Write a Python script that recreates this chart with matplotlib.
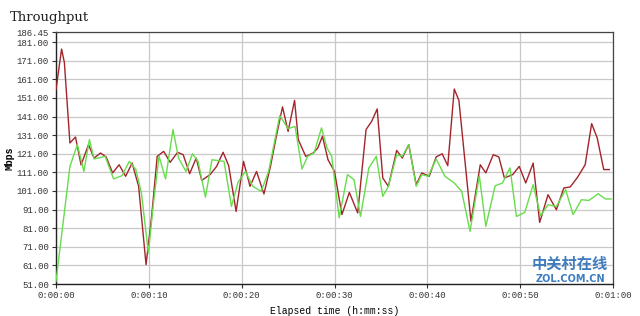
import numpy as np
import matplotlib.pyplot as plt

# Throughput samples: (elapsed seconds, Mbps)
red_t = [0.0, 0.6, 0.9, 1.5, 2.1, 2.7, 3.5, 4.1, 4.8, 5.4, 6.1, 6.8, 7.5, 8.2,
         8.9, 9.7, 10.3, 10.9, 11.6, 12.3, 13.1, 13.7, 14.4, 15.1, 15.7, 16.6,
         17.3, 18.0, 18.6, 19.4, 20.2, 20.9, 21.6, 22.4, 23.1, 23.7, 24.4, 25.0,
         25.7, 26.1, 26.9, 27.7, 28.2, 28.7, 29.3, 30.0, 30.8, 31.6, 32.5, 33.4,
         34.0, 34.6, 35.2, 35.8, 36.7, 37.3, 38.0, 38.8, 39.4, 40.2, 40.95, 41.6,
         42.2, 42.9, 43.4, 44.7, 45.7, 46.3, 47.1, 47.7, 48.3, 49.2, 49.9, 50.6,
         51.4, 52.1, 53.0, 53.9, 54.7, 55.4, 56.2, 57.0, 57.7, 58.3, 59.0, 59.6]
red_v = [155.5, 177.3, 170.1, 126.8, 130.0, 115.0, 125.9, 118.7, 121.4, 119.3,
         110.7, 115.1, 108.9, 116.0, 103.5, 61.4, 87.3, 119.6, 122.3, 116.4,
         121.8, 120.5, 110.3, 118.7, 106.7, 109.8, 114.2, 121.8, 114.6, 90.0,
         116.9, 103.5, 111.5, 99.4, 114.2, 129.5, 146.2, 133.0, 149.7, 128.6,
         119.6, 121.4, 124.1, 130.4, 117.8, 111.5, 88.3, 100.2, 89.2, 134.0,
         138.4, 145.1, 108.0, 103.5, 122.8, 118.7, 125.9, 104.4, 110.7, 108.9,
         119.3, 121.0, 114.6, 155.8, 149.7, 84.7, 115.1, 110.7, 120.5, 119.3,
         108.0, 109.8, 114.2, 105.3, 116.0, 84.1, 99.0, 90.9, 102.6, 103.2,
         108.5, 115.1, 137.2, 129.5, 112.5, 112.5]

green_t = [0.0, 1.5, 2.3, 3.0, 3.6, 4.1, 5.3, 6.2, 7.1, 7.9, 8.6, 9.2, 9.95,
           10.5, 11.1, 11.8, 12.6, 13.2, 14.0, 14.7, 15.3, 16.1, 16.8, 17.5,
           18.1, 18.9, 19.6, 20.4, 21.2, 22.1, 22.9, 24.1, 25.0, 25.75, 26.5,
           27.1, 27.8, 28.6, 29.2, 29.7, 30.5, 31.4, 32.1, 32.8, 33.7, 34.5,
           35.2, 35.8, 36.7, 37.3, 38.0, 38.8, 39.4, 40.1, 40.95, 41.9, 42.9,
           43.7, 44.6, 45.6, 46.3, 47.3, 48.1, 48.9, 49.6, 50.5, 51.4, 52.2,
           53.0, 53.9, 54.9, 55.7, 56.6, 57.4, 58.4, 59.2, 59.8]
green_v = [52.4, 114.2, 125.9, 111.5, 128.6, 118.2, 119.6, 107.5, 109.2, 116.9,
           112.5, 99.9, 67.7, 94.5, 119.6, 107.5, 134.0, 118.7, 111.5, 121.0,
           116.9, 97.7, 117.8, 117.3, 116.9, 92.7, 105.6, 111.5, 103.5, 100.8,
           111.5, 141.5, 134.5, 135.7, 112.8, 119.6, 121.4, 134.9, 124.1, 119.6,
           86.5, 109.8, 107.1, 87.3, 113.4, 119.6, 98.1, 103.5, 120.5, 119.6,
           125.9, 103.5, 109.8, 108.9, 118.2, 108.9, 105.3, 100.8, 79.3, 109.2,
           82.0, 103.8, 105.3, 113.4, 87.3, 89.5, 104.4, 87.7, 93.6, 92.7,
           101.7, 88.3, 96.3, 95.9, 99.5, 96.7, 96.7]

y_ticks = [51.00, 61.00, 71.00, 81.00, 91.00, 101.00, 111.00, 121.00, 131.00,
           141.00, 151.00, 161.00, 171.00, 181.00, 186.45]
x_ticks = [0, 10, 20, 30, 40, 50, 60]
x_labels = ['0:00:00', '0:00:10', '0:00:20', '0:00:30', '0:00:40', '0:00:50',
            '0:01:00']

mono = 'Liberation Mono'

fig = plt.figure(figsize=(6.4, 3.16), dpi=100)
ax = fig.add_axes([56 / 640, 32 / 316, 557 / 640, 252 / 316])

ax.plot(red_t, red_v, color='#a3252b', linewidth=1.0, zorder=3)
ax.plot(green_t, green_v, color='#66dd4c', linewidth=1.0, zorder=4)

ax.set_xlim(0, 60)
ax.set_ylim(51.0, 186.45)
ax.set_yticks(y_ticks)
ax.set_yticklabels([f'{v:.2f}' for v in y_ticks], fontfamily=mono, fontsize=6.5,
                   color='#333333')
ax.set_xticks(x_ticks)
ax.set_xticklabels(x_labels, fontfamily=mono, fontsize=6.5, color='#333333')
ax.tick_params(length=3, width=0.8, pad=2, color='#333333')

ax.grid(True, color='#c8c8c8', linewidth=0.9, zorder=0)
ax.set_axisbelow(True)
for side in ['left', 'bottom']:
    ax.spines[side].set_color('#222222')
    ax.spines[side].set_linewidth(1.0)
for side in ['top', 'right']:
    ax.spines[side].set_color('#444444')
    ax.spines[side].set_linewidth(0.9)

ax.set_xlabel('Elapsed time (h:mm:ss)', fontfamily=mono, fontsize=7,
              labelpad=4)
ax.set_ylabel('Mbps', fontfamily=mono, fontsize=7, fontweight='bold')
ax.yaxis.set_label_coords(-0.074, 0.5)

fig.text(10 / 640, 1 - 17 / 316, 'Throughput', fontfamily='DejaVu Serif',
         fontsize=9.5, va='center', ha='left', color='#222222')

# watermark (kept clear of the tick labels)
fig.text(570 / 640, 1 - 264 / 316, '中关村在线',
         fontfamily=['Noto Sans CJK SC', 'DejaVu Sans'],
         fontsize=11, color='#2a6fb8', ha='center', va='center',
         fontweight='bold', alpha=0.9, zorder=10)
fig.text(570 / 640, 1 - 279 / 316, 'ZOL.COM.CN', fontfamily='DejaVu Sans',
         fontsize=7, color='#2a6fb8', ha='center', va='center',
         fontweight='bold', alpha=0.9, zorder=10)

fig.savefig('out.png', dpi=100)
